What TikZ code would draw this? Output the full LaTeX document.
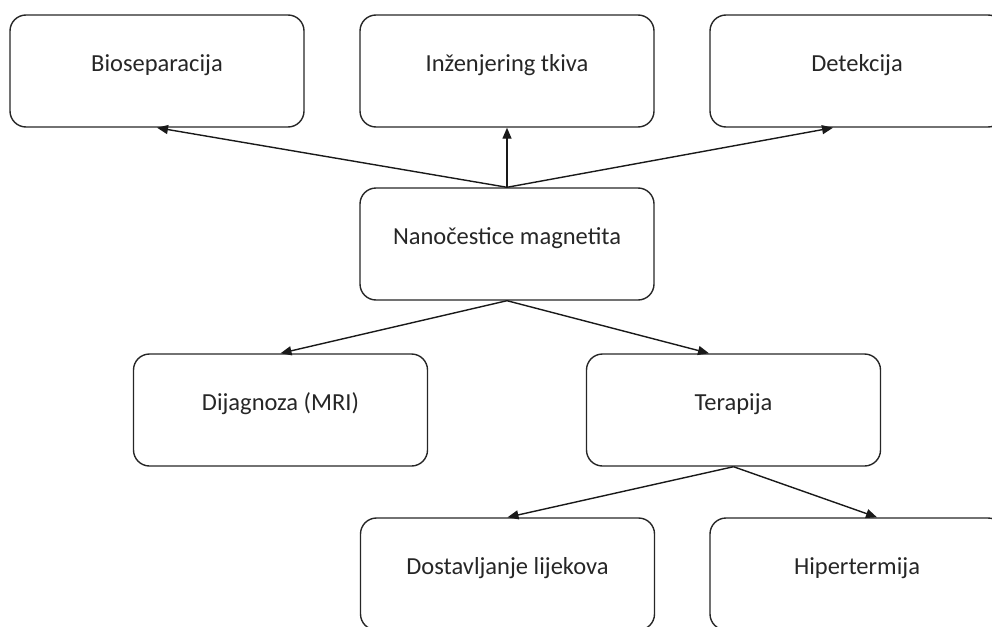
\documentclass[tikz,border=0pt]{standalone}
\usepackage{fontspec}
\setmainfont{Carlito}
\usetikzlibrary{arrows.meta}
\begin{document}
\begin{tikzpicture}[x=1pt,y=-1pt,
  box/.style={draw=black!85, line width=1.4pt, rounded corners=16pt,
    minimum width=294pt, inner xsep=0pt, inner ysep=0pt,
    text height=56pt, text depth=56pt, text=black!85,
    font=\fontsize{24.5}{29}\selectfont},
  conn/.style={draw=black!90, line width=1.4pt, -{Triangle[length=11pt,width=9pt]}}]
\useasboundingbox (0,0) rectangle (992,626);
\clip (0,0) rectangle (992,626);
\node[box] (bio) at (157,71) {Bioseparacija};
\node[box] (ing) at (507,71) {Inženjering tkiva};
\node[box] (det) at (857,71) {Detekcija};
\node[box] (nano) at (507,244) {Nanočestice magnetita};
\node[box] (dij) at (280.5,410) {Dijagnoza (MRI)};
\node[box] (ter) at (733.5,410) {Terapija};
\node[box] (dos) at (507.5,574) {Dostavljanje lijekova};
\node[box] (hip) at (857,574) {Hipertermija};
\draw[conn] (nano.north) -- (bio.south);
\draw[conn] (nano.north) -- (ing.south);
\draw[conn] (nano.north) -- ([xshift=-24pt]det.south);
\draw[conn] (nano.south) -- (dij.north);
\draw[conn] (nano.south) -- ([xshift=-24.5pt]ter.north);
\draw[conn] (ter.south) -- (dos.north);
\draw[conn] (ter.south) -- ([xshift=20pt]hip.north);
\end{tikzpicture}
\end{document}
